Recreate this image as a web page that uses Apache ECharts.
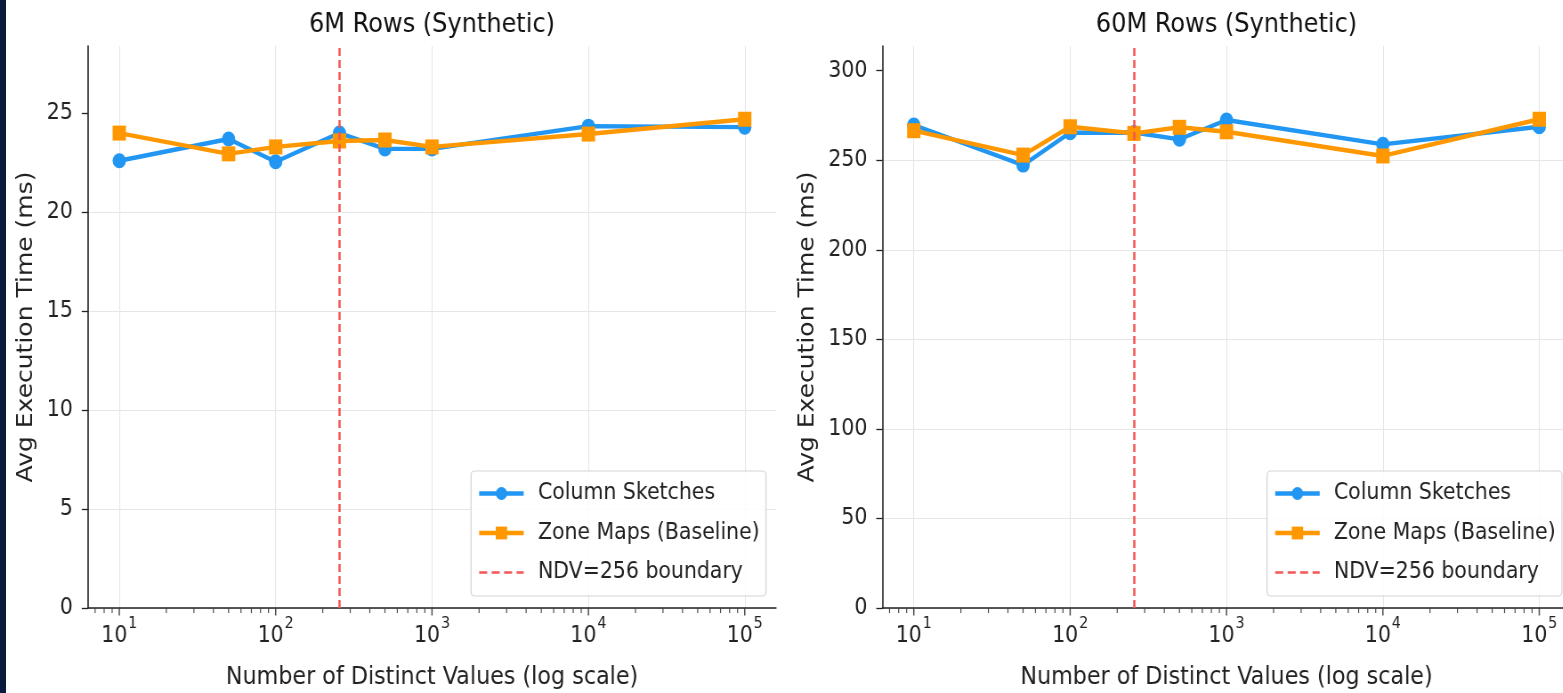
<!DOCTYPE html>
<html><head><meta charset="utf-8">
<script src="https://cdn.jsdelivr.net/npm/echarts@6/dist/echarts.min.js"></script>
<style>
html,body{margin:0;padding:0;background:#fff;overflow:hidden;width:1563px;height:693px;}
#wrap{position:absolute;left:0;top:0;width:1757px;height:693px;transform:scaleX(0.89);transform-origin:0 0;}
#strip{position:absolute;left:0;top:0;width:6px;height:693px;background:#0a1a3d;z-index:5;}
</style></head><body><div id="wrap"></div><div id="strip"></div>
<script>
// ---- data ----
const ndv = [10, 50, 100, 256, 500, 1000, 10000, 100000];
const sketch6M = [22.6, 23.7, 22.55, 24.0, 23.2, 23.2, 24.35, 24.3];
const zone6M = [24.0, 22.95, 23.3, 23.6, 23.65, 23.3, 23.95, 24.7];
const sketch60M = [269.7, 247.3, 265.4, 265.5, 261.7, 272.5, 258.9, 268.7];
const zone60M = [266.5, 252.9, 268.7, 265.0, 268.4, 265.9, 252.4, 272.9];
const boundaryNDV = [256];
const yTicks6M = [0, 5, 10, 15, 20, 25];
const yTicks60M = [0, 50, 100, 150, 200, 250, 300];
const xMajorTicks = [10, 100, 1000, 10000, 100000];
const titles = ['6M Rows (Synthetic)', '60M Rows (Synthetic)'];
const seriesNames = ['Column Sketches', 'Zone Maps (Baseline)', 'NDV=256 boundary'];
const xAxisName = 'Number of Distinct Values (log scale)';
const yAxisName = 'Avg Execution Time (ms)';

// ---- layout / style ----
const SX = 0.89;
const FONT = 'DejaVu Sans';
const BLUE = '#2196F3', ORANGE = '#FF9800', RED = '#f45555', INK = '#222';
const yMax = [28.4, 313.8];
const xMin = Math.pow(10, 0.8), xMax = Math.pow(10, 5.2);
const panels = [
  {left: 88 / SX, sketch: sketch6M, zone: zone6M, yTicks: yTicks6M, yMax: yMax[0], nameGap: 57, legendLeft: 471 / SX, titleX: 432 / SX},
  {left: 882.5 / SX, sketch: sketch60M, zone: zone60M, yTicks: yTicks60M, yMax: yMax[1], nameGap: 72, legendLeft: 1267 / SX, titleX: 1226.5 / SX}
];
const plotW = 688 / SX;

// minor ticks on the log axis (2..9 x each decade) inside the axis range
const xMinorTicks = [];
for (let d = 1; d <= 1e5; d *= 10) for (let k = 2; k <= 9; k++) { const v = k * d; if (v >= xMin && v <= xMax) xMinorTicks.push(v); }

const chart = echarts.init(document.getElementById('wrap'), null, {renderer: 'canvas'});

const grid = [], xAxis = [], yAxis = [], series = [], legend = [], title = [];
panels.forEach(function (p, i) {
  grid.push({left: p.left, top: 46, width: plotW, height: 562, containLabel: false, outerBoundsMode: 'none'});
  title.push({text: titles[i], left: p.titleX, top: 11, textAlign: 'center', padding: 0,
    textStyle: {fontSize: 27, fontWeight: 'normal', color: '#111', fontFamily: FONT}});
  xAxis.push({
    type: 'log', logBase: 10, gridIndex: i, min: xMin, max: xMax,
    name: xAxisName, nameLocation: 'middle', nameGap: 57,
    nameTextStyle: {fontSize: 25, color: INK, fontFamily: FONT},
    axisLine: {show: true, onZero: false, lineStyle: {color: INK, width: 1.6}},
    axisTick: {show: false},
    axisLabel: {
      showMinLabel: false, showMaxLabel: false, margin: 8, color: INK,
      formatter: function (v) { return '{b|10}{s|' + Math.round(Math.log10(v)) + '}'; },
      rich: {
        b: {fontSize: 23, lineHeight: 40, verticalAlign: 'middle', color: INK, fontFamily: FONT},
        s: {fontSize: 16, lineHeight: 16, verticalAlign: 'top', padding: [0, 0, 0, 1], color: INK, fontFamily: FONT}
      }
    },
    splitLine: {show: true, showMinLine: false, showMaxLine: false, lineStyle: {color: '#e6e6e6', width: 1}}
  });
  yAxis.push({
    type: 'value', gridIndex: i, min: 0, max: p.yMax,
    name: yAxisName, nameLocation: 'middle', nameGap: p.nameGap,
    nameTextStyle: {fontSize: 25, color: INK, fontFamily: FONT},
    axisLine: {show: true, lineStyle: {color: INK, width: 1.6}},
    axisTick: {show: true, length: 7, customValues: p.yTicks, lineStyle: {color: INK, width: 1.3}},
    axisLabel: {customValues: p.yTicks, fontSize: 23, color: INK, margin: 17, fontFamily: FONT},
    splitLine: {show: true, showMaxLine: false, lineStyle: {color: '#e6e6e6', width: 1}}
  });
  series.push({
    name: seriesNames[0], type: 'line', xAxisIndex: i, yAxisIndex: i,
    data: ndv.map(function (x, j) { return [x, p.sketch[j]]; }),
    symbol: 'circle', symbolSize: 15, showSymbol: true,
    lineStyle: {color: BLUE, width: 4.4}, itemStyle: {color: BLUE}, z: 3
  });
  series.push({
    name: seriesNames[1], type: 'line', xAxisIndex: i, yAxisIndex: i,
    data: ndv.map(function (x, j) { return [x, p.zone[j]]; }),
    symbol: 'rect', symbolSize: 15, showSymbol: true,
    lineStyle: {color: ORANGE, width: 4.4}, itemStyle: {color: ORANGE}, z: 4
  });
  series.push({
    name: seriesNames[2], type: 'line', xAxisIndex: i, yAxisIndex: i, data: [],
    symbol: 'none', lineStyle: {color: RED, width: 2.5, type: [8, 4]}, itemStyle: {color: RED},
    markLine: {silent: true, symbol: ['none', 'none'], label: {show: false},
      lineStyle: {color: RED, width: 2.5, type: [8, 4], opacity: 1},
      emphasis: {disabled: true},
      data: boundaryNDV.map(function (v) { return {xAxis: v}; })}, z: 5
  });
  // major and minor x ticks, placed on the axis through the log scale
  series.push({
    type: 'scatter', xAxisIndex: i, yAxisIndex: i, silent: true, clip: false, z: 6,
    data: xMajorTicks.map(function (v) { return [v, 0]; }),
    symbol: 'rect', symbolSize: [1.5, 7], symbolOffset: [0, 4], itemStyle: {color: INK}
  });
  series.push({
    type: 'scatter', xAxisIndex: i, yAxisIndex: i, silent: true, clip: false, z: 6,
    data: xMinorTicks.map(function (v) { return [v, 0]; }),
    symbol: 'rect', symbolSize: [1.2, 4.5], symbolOffset: [0, 2.8], itemStyle: {color: INK}
  });
  legend.push({
    orient: 'vertical', left: p.legendLeft, top: 471, selectedMode: false,
    data: [
      {name: seriesNames[0]},
      {name: seriesNames[1]},
      {name: seriesNames[2], itemStyle: {opacity: 0}, lineStyle: {width: 2.5, type: [9, 5]}}
    ],
    itemWidth: 50, itemHeight: 16, itemGap: 16.5,
    padding: [11, 7, 12, 7], backgroundColor: 'rgba(255,255,255,0.85)',
    borderColor: '#d4d4d4', borderWidth: 1.2, borderRadius: 4,
    lineStyle: {width: 4.4},
    textStyle: {fontSize: 23, color: INK, fontFamily: FONT, padding: [0, 0, 0, 11]}
  });
});

chart.setOption({
  animation: false,
  backgroundColor: '#ffffff',
  textStyle: {fontFamily: FONT},
  title: title, grid: grid, xAxis: xAxis, yAxis: yAxis, legend: legend, series: series
});
</script>
</body></html>
